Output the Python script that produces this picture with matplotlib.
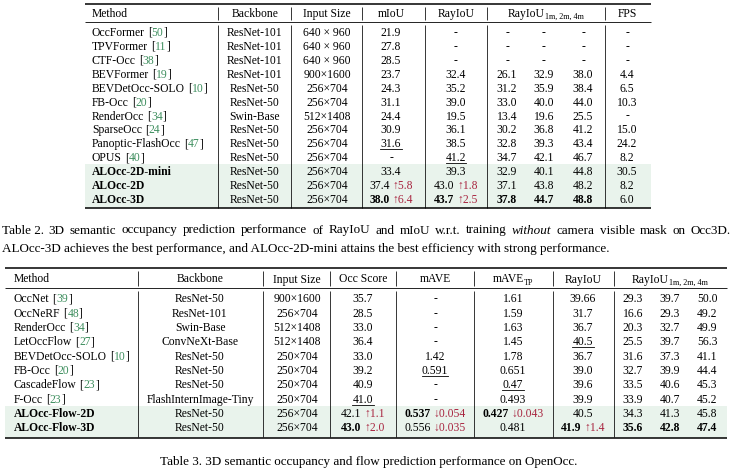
import matplotlib
matplotlib.use('Agg')
import matplotlib.pyplot as plt

# ---------------- data: Table 2 ----------------
t2_methods = ['OccFormer', 'TPVFormer', 'CTF-Occ', 'BEVFormer', 'BEVDetOcc-SOLO', 'FB-Occ',
              'RenderOcc', 'SparseOcc', 'Panoptic-FlashOcc', 'OPUS',
              'ALOcc-2D-mini', 'ALOcc-2D', 'ALOcc-3D']
t2_cites = ['50', '11', '38', '19', '10', '20', '34', '24', '47', '40', None, None, None]
t2_backbone = ['ResNet-101', 'ResNet-101', 'ResNet-101', 'ResNet-101', 'ResNet-50', 'ResNet-50',
               'Swin-Base', 'ResNet-50', 'ResNet-50', 'ResNet-50', 'ResNet-50', 'ResNet-50', 'ResNet-50']
t2_input = ['640 × 960', '640 × 960', '640 × 960', '900×1600', '256×704', '256×704',
            '512×1408', '256×704', '256×704', '256×704', '256×704', '256×704', '256×704']
t2_miou = ['21.9', '27.8', '28.5', '23.7', '24.3', '31.1', '24.4', '30.9', '31.6', '-', '33.4', '37.4', '38.0']
t2_miou_delta = [None] * 11 + ['↑5.8', '↑6.4']
t2_rayiou = ['-', '-', '-', '32.4', '35.2', '39.0', '19.5', '36.1', '38.5', '41.2', '39.3', '43.0', '43.7']
t2_rayiou_delta = [None] * 11 + ['↑1.8', '↑2.5']
t2_r1m = ['-', '-', '-', '26.1', '31.2', '33.0', '13.4', '30.2', '32.8', '34.7', '32.9', '37.1', '37.8']
t2_r2m = ['-', '-', '-', '32.9', '35.9', '40.0', '19.6', '36.8', '39.3', '42.1', '40.1', '43.8', '44.7']
t2_r4m = ['-', '-', '-', '38.0', '38.4', '44.0', '25.5', '41.2', '43.4', '46.7', '44.8', '48.2', '48.8']
t2_fps = ['-', '-', '-', '4.4', '6.5', '10.3', '-', '15.0', '24.2', '8.2', '30.5', '8.2', '6.0']

# ---------------- data: Table 3 ----------------
t3_methods = ['OccNet', 'OccNeRF', 'RenderOcc', 'LetOccFlow', 'BEVDetOcc-SOLO', 'FB-Occ',
              'CascadeFlow', 'F-Occ', 'ALOcc-Flow-2D', 'ALOcc-Flow-3D']
t3_cites = ['39', '48', '34', '27', '10', '20', '23', '23', None, None]
t3_backbone = ['ResNet-50', 'ResNet-101', 'Swin-Base', 'ConvNeXt-Base', 'ResNet-50', 'ResNet-50',
               'ResNet-50', 'FlashInternImage-Tiny', 'ResNet-50', 'ResNet-50']
t3_input = ['900×1600', '256×704', '512×1408', '512×1408', '250×704', '250×704',
            '250×704', '250×704', '256×704', '256×704']
t3_occ = ['35.7', '28.5', '33.0', '36.4', '33.0', '39.2', '40.9', '41.0', '42.1', '43.0']
t3_occ_delta = [None] * 8 + ['↑1.1', '↑2.0']
t3_mave = ['-', '-', '-', '-', '1.42', '0.591', '-', '-', '0.537', '0.556']
t3_mave_delta = [None] * 8 + ['↓0.054', '↓0.035']
t3_mavetp = ['1.61', '1.59', '1.63', '1.45', '1.78', '0.651', '0.47', '0.493', '0.427', '0.481']
t3_mavetp_delta = [None] * 8 + ['↓0.043', None]
t3_rayiou = ['39.66', '31.7', '36.7', '40.5', '36.7', '39.0', '39.6', '39.9', '40.5', '41.9']
t3_rayiou_delta = [None] * 9 + ['↑1.4']
t3_r1m = ['29.3', '16.6', '20.3', '25.5', '31.6', '32.7', '33.5', '33.9', '34.3', '35.6']
t3_r2m = ['39.7', '29.3', '32.7', '39.7', '37.3', '39.9', '40.6', '40.7', '41.3', '42.8']
t3_r4m = ['50.0', '49.2', '49.9', '56.3', '41.1', '44.4', '45.3', '45.2', '45.8', '47.4']

caption2_l1 = [('Table 2.', 'n'), ('3D', 'n'), ('semantic', 'n'), ('occupancy', 'n'), ('prediction', 'n'),
               ('performance', 'n'), ('of', 'n'), ('RayIoU', 'n'), ('and', 'n'), ('mIoU', 'n'),
               ('w.r.t.', 'n'), ('training', 'n'), ('without', 'i'), ('camera', 'n'), ('visible', 'n'),
               ('mask', 'n'), ('on', 'n'), ('Occ3D.', 'n')]
caption2_l2 = 'ALOcc-3D achieves the best performance, and ALOcc-2D-mini attains the best efficiency with strong performance.'
caption3 = 'Table 3. 3D semantic occupancy and flow prediction performance on OpenOcc.'

# ---------------- styles (kept apart from data) ----------------
t2_bold = {(12, 'miou'), (12, 'rayiou'), (12, 'r1m'), (12, 'r2m'), (12, 'r4m')}
t2_bold_rows = {10, 11, 12}
t2_under = {(8, 'miou'), (9, 'rayiou')}
t3_bold = {(9, 'occ'), (8, 'mave'), (8, 'mavetp'), (9, 'rayiou'), (9, 'r1m'), (9, 'r2m'), (9, 'r4m')}
t3_bold_rows = {8, 9}
t3_under = {(7, 'occ'), (5, 'mave'), (6, 'mavetp'), (3, 'rayiou')}

FONT = ['Liberation Serif', 'DejaVu Serif']
CITE = '#3f8f5f'
RED = '#a8243f'
SHADE = '#e9f3ec'
TS = 8.4           # table font size (pt)

W, H = 734, 470
fig = plt.figure(figsize=(W / 100, H / 100), dpi=100)
ax = fig.add_axes([0, 0, 1, 1])
ax.set_xlim(0, W)
ax.set_ylim(H, 0)
ax.axis('off')
fig.canvas.draw()
R = fig.canvas.get_renderer()

_cache = {}


def ink(text, size, weight='normal', style='normal'):
    key = (text, size, weight, style)
    if key not in _cache:
        t = ax.text(0, 0, text, fontsize=size, fontweight=weight, fontstyle=style, family=FONT)
        _cache[key] = t.get_window_extent(R).width
        t.remove()
    return _cache[key]


def adv(text, size, weight='normal', style='normal'):
    """advance width (including bearings / spaces)"""
    if not text:
        return 0.0
    return ink('I' + text + 'I', size, weight, style) - ink('II', size, weight, style)


def lsb(text, size, weight='normal', style='normal'):
    a_i = ink('II', size, weight, style) - ink('I', size, weight, style)
    return ink('I' + text, size, weight, style) - ink(text, size, weight, style) - a_i


def seg(t, weight='normal', style='normal', color='black', scale=1.0, dy=0.0, ul=False):
    return dict(t=t, weight=weight, style=style, color=color, scale=scale, dy=dy, ul=ul)


def draw(x, y, segs, ha='center', size=TS):
    items = []
    for s in segs:
        sz = size * s['scale']
        body = s['t'].strip()
        lead = s['t'][:len(s['t']) - len(s['t'].lstrip())]
        items.append((s, sz, body, adv(lead, sz), adv(s['t'], sz, s['weight'], s['style']),
                      lsb(body, sz, s['weight'], s['style']), ink(body, sz, s['weight'], s['style'])))
    first_l = items[0][3] + items[0][5]
    total = sum(it[4] for it in items[:-1]) + items[-1][3] + items[-1][5] + items[-1][6] - first_l
    ox = (x - total / 2 if ha == 'center' else x) - first_l
    for s, sz, body, lead_a, a, l, w in items:
        xl = ox + lead_a + l
        ax.text(xl, y + s['dy'], body, fontsize=sz, fontweight=s['weight'],
                fontstyle=s['style'], color=s['color'], family=FONT, ha='left', va='baseline')
        if s['ul']:
            ax.plot([xl - 0.3, xl + w + 0.3], [y + 2.0, y + 2.0], color=s['color'], lw=0.6)
        ox += a


def value_cell(val, delta, bold, under):
    segs = [seg(val, weight='bold' if bold else 'normal', ul=under)]
    if delta:
        segs.append(seg(' ' + delta, color=RED))
    return segs


def method_cell(name, cite, bold):
    w = 'bold' if bold else 'normal'
    if cite:
        return [seg(name, weight=w), seg(' ['), seg(cite, color=CITE), seg(']')]
    return [seg(name, weight=w)]


def hline(x0, x1, y, lw):
    ax.plot([x0, x1], [y, y], color='black', lw=lw, solid_capstyle='butt')


def vline(x, y0, y1):
    ax.plot([x, x], [y0, y1], color='black', lw=0.55, solid_capstyle='butt')


BL = 4.0  # baseline offset from visual row centre

# ================= Table 2 =================
x0, x1 = 85, 651
top, mid, bot = 3.5, 22.0, 208.0
r0, step = 31.7, 13.97
n2 = len(t2_methods)
sy = r0 + step * 10 - 7.2
ax.add_patch(plt.Rectangle((x0, sy), x1 - x0, bot - sy, color=SHADE, lw=0, zorder=0))
hline(x0, x1, top, 1.1)
hline(x0, x1, mid, 0.6)
hline(x0, x1, bot, 1.1)
for vx in [218, 291, 362, 425, 487, 605]:
    vline(vx, top + 3, mid - 2)
    vline(vx, mid + 2.5, bot - 0.5)

cols2 = {'backbone': 255, 'input': 327, 'miou': 391, 'rayiou': 456,
         'r1m': 507, 'r2m': 544, 'r4m': 583, 'fps': 627}
hy = 13.0 + BL
draw(92, hy, [seg('Method')], ha='left')
draw(cols2['backbone'], hy, [seg('Backbone')])
draw(cols2['input'], hy, [seg('Input Size')])
draw(cols2['miou'], hy, [seg('mIoU')])
draw(cols2['rayiou'], hy, [seg('RayIoU')])
draw(546, hy, [seg('RayIoU'), seg('1m, 2m, 4m', scale=0.7, dy=2.2)])
draw(cols2['fps'], hy, [seg('FPS')])

for i in range(n2):
    y = r0 + step * i + BL
    draw(92, y, method_cell(t2_methods[i], t2_cites[i], i in t2_bold_rows), ha='left')
    draw(cols2['backbone'], y, [seg(t2_backbone[i])])
    draw(cols2['input'], y, [seg(t2_input[i])])
    for key, vals, deltas in [('miou', t2_miou, t2_miou_delta), ('rayiou', t2_rayiou, t2_rayiou_delta),
                              ('r1m', t2_r1m, None), ('r2m', t2_r2m, None), ('r4m', t2_r4m, None),
                              ('fps', t2_fps, None)]:
        d = deltas[i] if deltas else None
        draw(cols2[key], y, value_cell(vals[i], d, (i, key) in t2_bold, (i, key) in t2_under))

# caption of table 2: size fitted so that the (unjustified) second line spans ~612 px
CS = 9.0 * 612.0 / ink(caption2_l2, 9.0)
words = caption2_l1
ws = [ink(w, CS, style='italic' if s == 'i' else 'normal') for w, s in words]
cl0, cl1 = 1.5, 731
gapw = (cl1 - cl0 - sum(ws)) / (len(ws) - 1)
cx = cl0
for (w, s), wd in zip(words, ws):
    ax.text(cx, 233.5, w, fontsize=CS, fontstyle='italic' if s == 'i' else 'normal',
            family=FONT, ha='left', va='baseline')
    cx += wd + gapw
ax.text(1.5, 252, caption2_l2, fontsize=CS, family=FONT, ha='left', va='baseline')

# ================= Table 3 =================
x0, x1 = 5, 727
top, mid, bot = 268.0, 288.0, 437.5
r0, step = 298.3, 14.33
n3 = len(t3_methods)
sy = r0 + step * 8 - 7.3
ax.add_patch(plt.Rectangle((x0, sy), x1 - x0, bot - sy, color=SHADE, lw=0, zorder=0))
hline(x0, x1, top, 1.1)
hline(x0, x1, mid, 0.6)
hline(x0, x1, bot, 1.1)
for vx in [138, 263, 330, 396, 474, 553, 614]:
    vline(vx, top + 3, mid - 2)
    vline(vx, mid + 2.5, bot - 0.5)

cols3 = {'backbone': 200, 'input': 297, 'occ': 363, 'mave': 435, 'mavetp': 513,
         'rayiou': 583, 'r1m': 633, 'r2m': 670, 'r4m': 707}
hy = 278.5 + BL
draw(14, hy, [seg('Method')], ha='left')
draw(cols3['backbone'], hy, [seg('Backbone')])
draw(cols3['input'], hy, [seg('Input Size')])
draw(cols3['occ'], hy, [seg('Occ Score')])
draw(cols3['mave'], hy, [seg('mAVE')])
draw(cols3['mavetp'], hy, [seg('mAVE'), seg('TP', scale=0.7, dy=2.2)])
draw(cols3['rayiou'], hy, [seg('RayIoU')])
draw(670, hy, [seg('RayIoU'), seg('1m, 2m, 4m', scale=0.7, dy=2.2)])

for i in range(n3):
    y = r0 + step * i + BL
    draw(14, y, method_cell(t3_methods[i], t3_cites[i], i in t3_bold_rows), ha='left')
    draw(cols3['backbone'], y, [seg(t3_backbone[i])])
    draw(cols3['input'], y, [seg(t3_input[i])])
    for key, vals, deltas in [('occ', t3_occ, t3_occ_delta), ('mave', t3_mave, t3_mave_delta),
                              ('mavetp', t3_mavetp, t3_mavetp_delta), ('rayiou', t3_rayiou, t3_rayiou_delta),
                              ('r1m', t3_r1m, None), ('r2m', t3_r2m, None), ('r4m', t3_r4m, None)]:
        d = deltas[i] if deltas else None
        draw(cols3[key], y, value_cell(vals[i], d, (i, key) in t3_bold, (i, key) in t3_under))

ax.text(369, 465, caption3, fontsize=CS, family=FONT, ha='center', va='baseline')

fig.savefig('out.png', dpi=100)
